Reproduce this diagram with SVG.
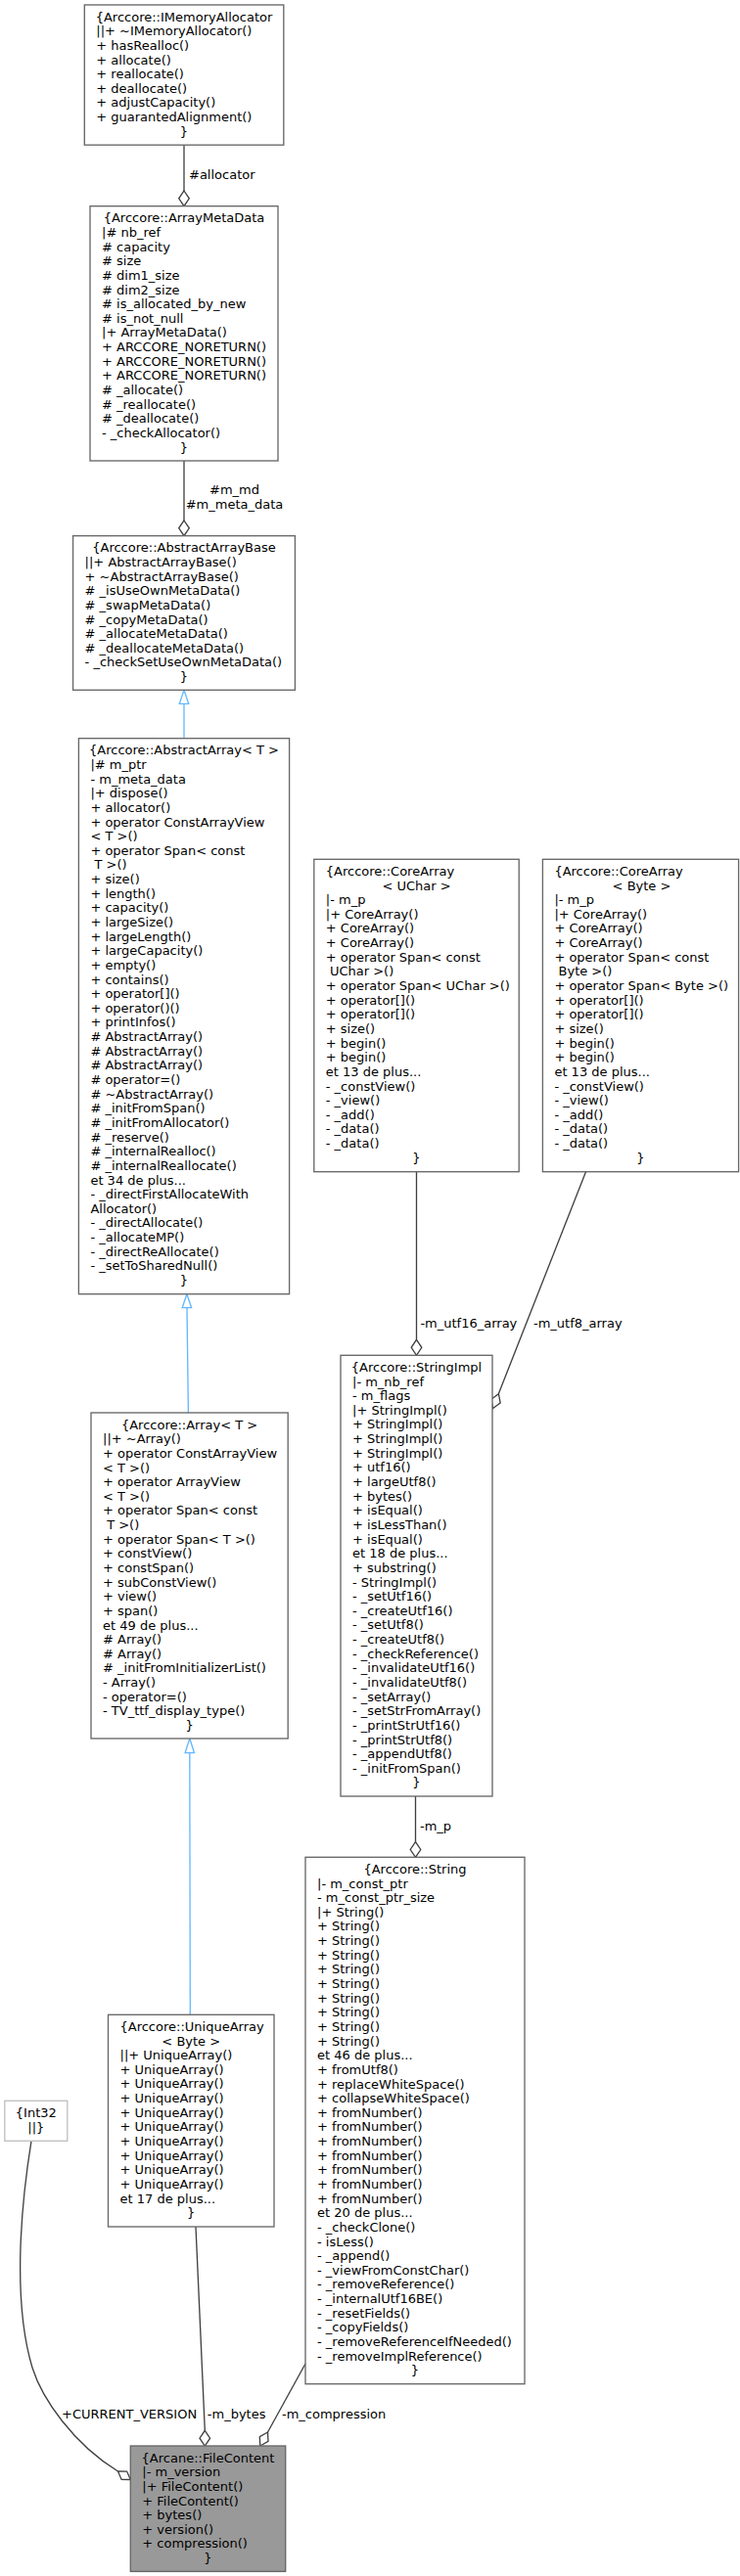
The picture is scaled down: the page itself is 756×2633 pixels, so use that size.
<svg xmlns="http://www.w3.org/2000/svg" width="756" height="2633" viewBox="0 0 756 2633">
<style>
rect.box{fill:#ffffff;stroke:#666666;stroke-width:1.33}
rect.focus{fill:#999999;stroke:#666666;stroke-width:1.33}
rect.ext{fill:#ffffff;stroke:#bfbfbf;stroke-width:1.33}
text{font-family:"DejaVu Sans","Liberation Sans",sans-serif;font-size:13px;fill:#000000}
text.c{text-anchor:middle}
.e{fill:none;stroke:#404040;stroke-width:1.33}
.inh{fill:none;stroke:#63b8ff;stroke-width:1.33}
.dia{fill:#ffffff;stroke:#404040;stroke-width:1.33}
.tri{fill:#ffffff;stroke:#63b8ff;stroke-width:1.33}
</style>
<rect width="756" height="2633" fill="#ffffff"/>
<g id="edges">
<!-- allocator -->
<path class="e" d="M188,148.2 L188,195"/>
<polygon class="dia" points="188,195 193.3,202.85 188,210.7 182.7,202.85"/>
<text x="193" y="183.2">#allocator</text>
<!-- m_md / m_meta_data -->
<path class="e" d="M188,471 L188,532"/>
<polygon class="dia" points="188,532 193.3,539.85 188,547.7 182.7,539.85"/>
<text class="c" x="239.5" y="505">#m_md</text>
<text class="c" x="239.5" y="520">#m_meta_data</text>
<!-- AbstractArray -> AbstractArrayBase -->
<path class="inh" d="M188,754.7 L188,719.3"/>
<polygon class="tri" points="188,705.3 192.7,719.3 183.3,719.3"/>
<!-- Array -> AbstractArray -->
<path class="inh" d="M192.4,1444 L191,1336.7"/>
<polygon class="tri" points="190.9,1322.7 195.6,1336.7 186.2,1336.7"/>
<!-- UniqueArray -> Array -->
<path class="inh" d="M194.3,2059.3 L193.8,1791.7"/>
<polygon class="tri" points="193.8,1777 198.5,1791.7 189.1,1791.7"/>
<!-- m_utf16_array -->
<path class="e" d="M425.5,1197.7 L425.5,1369.3"/>
<polygon class="dia" points="425.5,1369.3 430.8,1377.3 425.5,1385.3 420.2,1377.3"/>
<text x="429.4" y="1357">-m_utf16_array</text>
<!-- m_utf8_array -->
<path class="e" d="M598.5,1197.7 L509.4,1424.6"/>
<polygon class="dia" points="509.4,1424.6 511.15,1433.9 503.55,1439.5 501.85,1430.2"/>
<text x="545" y="1357">-m_utf8_array</text>
<!-- m_p -->
<path class="e" d="M424.5,1836 L424.5,1882.7"/>
<polygon class="dia" points="424.5,1882.7 429.8,1890.5 424.5,1898.3 419.2,1890.5"/>
<text x="429" y="1871">-m_p</text>
<!-- CURRENT_VERSION -->
<path class="e" d="M32,2188.3 C22,2250 12,2350 33,2420 C43,2452 75,2498 120.5,2526"/>
<polygon class="dia" points="120.5,2526 129.65,2526.1 133.3,2534.5 124.15,2534.4"/>
<text x="63" y="2472">+CURRENT_VERSION</text>
<!-- m_bytes -->
<path class="e" d="M200,2276 L209.3,2484.3"/>
<polygon class="dia" points="209.3,2484.3 214.6,2492.15 209.3,2500 204,2492.15"/>
<text x="211.8" y="2472">-m_bytes</text>
<!-- m_compression -->
<path class="e" d="M312,2416 L273.5,2486"/>
<polygon class="dia" points="273.5,2486 274,2495.4 265.8,2500 265.3,2490.6"/>
<text x="288" y="2472">-m_compression</text>
</g>
<g id="node_IMemoryAllocator">
<rect class="box" x="86.3" y="5" width="203.5" height="143.2"/>
<text class="c" x="188" y="21.6">{Arccore::IMemoryAllocator</text>
<text x="98.3" y="36.24"><tspan x="98.3">||+ ~IMemoryAllocator()</tspan><tspan x="98.3" dy="14.64">+ hasRealloc()</tspan><tspan x="98.3" dy="14.64">+ allocate()</tspan><tspan x="98.3" dy="14.64">+ reallocate()</tspan><tspan x="98.3" dy="14.64">+ deallocate()</tspan><tspan x="98.3" dy="14.64">+ adjustCapacity()</tspan><tspan x="98.3" dy="14.64">+ guarantedAlignment()</tspan></text>
<text class="c" x="188" y="138.72">}</text>
</g>
<g id="node_ArrayMetaData">
<rect class="box" x="92" y="210.7" width="192" height="260.3"/>
<text class="c" x="188" y="227.3">{Arccore::ArrayMetaData</text>
<text x="104" y="241.94"><tspan x="104">|# nb_ref</tspan><tspan x="104" dy="14.64"># capacity</tspan><tspan x="104" dy="14.64"># size</tspan><tspan x="104" dy="14.64"># dim1_size</tspan><tspan x="104" dy="14.64"># dim2_size</tspan><tspan x="104" dy="14.64"># is_allocated_by_new</tspan><tspan x="104" dy="14.64"># is_not_null</tspan><tspan x="104" dy="14.64">|+ ArrayMetaData()</tspan><tspan x="104" dy="14.64">+ ARCCORE_NORETURN()</tspan><tspan x="104" dy="14.64">+ ARCCORE_NORETURN()</tspan><tspan x="104" dy="14.64">+ ARCCORE_NORETURN()</tspan><tspan x="104" dy="14.64"># _allocate()</tspan><tspan x="104" dy="14.64"># _reallocate()</tspan><tspan x="104" dy="14.64"># _deallocate()</tspan><tspan x="104" dy="14.64">- _checkAllocator()</tspan></text>
<text class="c" x="188" y="461.54">}</text>
</g>
<g id="node_AbstractArrayBase">
<rect class="box" x="74.6" y="547.7" width="226.8" height="157.6"/>
<text class="c" x="188" y="564.3">{Arccore::AbstractArrayBase</text>
<text x="86.6" y="578.94"><tspan x="86.6">||+ AbstractArrayBase()</tspan><tspan x="86.6" dy="14.64">+ ~AbstractArrayBase()</tspan><tspan x="86.6" dy="14.64"># _isUseOwnMetaData()</tspan><tspan x="86.6" dy="14.64"># _swapMetaData()</tspan><tspan x="86.6" dy="14.64"># _copyMetaData()</tspan><tspan x="86.6" dy="14.64"># _allocateMetaData()</tspan><tspan x="86.6" dy="14.64"># _deallocateMetaData()</tspan><tspan x="86.6" dy="14.64">- _checkSetUseOwnMetaData()</tspan></text>
<text class="c" x="188" y="696.06">}</text>
</g>
<g id="node_AbstractArray">
<rect class="box" x="80.4" y="754.7" width="215.2" height="568"/>
<text class="c" x="188" y="771.3">{Arccore::AbstractArray&lt; T &gt;</text>
<text x="92.4" y="785.94"><tspan x="92.4">|# m_ptr</tspan><tspan x="92.4" dy="14.64">- m_meta_data</tspan><tspan x="92.4" dy="14.64">|+ dispose()</tspan><tspan x="92.4" dy="14.64">+ allocator()</tspan><tspan x="92.4" dy="14.64">+ operator ConstArrayView</tspan><tspan x="92.4" dy="14.64">&lt; T &gt;()</tspan><tspan x="92.4" dy="14.64">+ operator Span&lt; const</tspan><tspan x="92.4" dy="14.64">&#160;T &gt;()</tspan><tspan x="92.4" dy="14.64">+ size()</tspan><tspan x="92.4" dy="14.64">+ length()</tspan><tspan x="92.4" dy="14.64">+ capacity()</tspan><tspan x="92.4" dy="14.64">+ largeSize()</tspan><tspan x="92.4" dy="14.64">+ largeLength()</tspan><tspan x="92.4" dy="14.64">+ largeCapacity()</tspan><tspan x="92.4" dy="14.64">+ empty()</tspan><tspan x="92.4" dy="14.64">+ contains()</tspan><tspan x="92.4" dy="14.64">+ operator[]()</tspan><tspan x="92.4" dy="14.64">+ operator()()</tspan><tspan x="92.4" dy="14.64">+ printInfos()</tspan><tspan x="92.4" dy="14.64"># AbstractArray()</tspan><tspan x="92.4" dy="14.64"># AbstractArray()</tspan><tspan x="92.4" dy="14.64"># AbstractArray()</tspan><tspan x="92.4" dy="14.64"># operator=()</tspan><tspan x="92.4" dy="14.64"># ~AbstractArray()</tspan><tspan x="92.4" dy="14.64"># _initFromSpan()</tspan><tspan x="92.4" dy="14.64"># _initFromAllocator()</tspan><tspan x="92.4" dy="14.64"># _reserve()</tspan><tspan x="92.4" dy="14.64"># _internalRealloc()</tspan><tspan x="92.4" dy="14.64"># _internalReallocate()</tspan><tspan x="92.4" dy="14.64">et 34 de plus...</tspan><tspan x="92.4" dy="14.64">- _directFirstAllocateWith</tspan><tspan x="92.4" dy="14.64">Allocator()</tspan><tspan x="92.4" dy="14.64">- _directAllocate()</tspan><tspan x="92.4" dy="14.64">- _allocateMP()</tspan><tspan x="92.4" dy="14.64">- _directReAllocate()</tspan><tspan x="92.4" dy="14.64">- _setToSharedNull()</tspan></text>
<text class="c" x="188" y="1312.98">}</text>
</g>
<g id="node_Array">
<rect class="box" x="93" y="1444" width="201.2" height="333"/>
<text class="c" x="193.6" y="1460.6">{Arccore::Array&lt; T &gt;</text>
<text x="105" y="1475.24"><tspan x="105">||+ ~Array()</tspan><tspan x="105" dy="14.64">+ operator ConstArrayView</tspan><tspan x="105" dy="14.64">&lt; T &gt;()</tspan><tspan x="105" dy="14.64">+ operator ArrayView</tspan><tspan x="105" dy="14.64">&lt; T &gt;()</tspan><tspan x="105" dy="14.64">+ operator Span&lt; const</tspan><tspan x="105" dy="14.64">&#160;T &gt;()</tspan><tspan x="105" dy="14.64">+ operator Span&lt; T &gt;()</tspan><tspan x="105" dy="14.64">+ constView()</tspan><tspan x="105" dy="14.64">+ constSpan()</tspan><tspan x="105" dy="14.64">+ subConstView()</tspan><tspan x="105" dy="14.64">+ view()</tspan><tspan x="105" dy="14.64">+ span()</tspan><tspan x="105" dy="14.64">et 49 de plus...</tspan><tspan x="105" dy="14.64"># Array()</tspan><tspan x="105" dy="14.64"># Array()</tspan><tspan x="105" dy="14.64"># _initFromInitializerList()</tspan><tspan x="105" dy="14.64">- Array()</tspan><tspan x="105" dy="14.64">- operator=()</tspan><tspan x="105" dy="14.64">- TV_ttf_display_type()</tspan></text>
<text class="c" x="193.6" y="1768.04">}</text>
</g>
<g id="node_UniqueArray">
<rect class="box" x="110.5" y="2059.3" width="169.5" height="216.7"/>
<text x="122.5" y="2075.9">{Arccore::UniqueArray</text>
<text class="c" x="195.25" y="2090.54">&lt; Byte &gt;</text>
<text x="122.5" y="2105.18"><tspan x="122.5">||+ UniqueArray()</tspan><tspan x="122.5" dy="14.64">+ UniqueArray()</tspan><tspan x="122.5" dy="14.64">+ UniqueArray()</tspan><tspan x="122.5" dy="14.64">+ UniqueArray()</tspan><tspan x="122.5" dy="14.64">+ UniqueArray()</tspan><tspan x="122.5" dy="14.64">+ UniqueArray()</tspan><tspan x="122.5" dy="14.64">+ UniqueArray()</tspan><tspan x="122.5" dy="14.64">+ UniqueArray()</tspan><tspan x="122.5" dy="14.64">+ UniqueArray()</tspan><tspan x="122.5" dy="14.64">+ UniqueArray()</tspan><tspan x="122.5" dy="14.64">et 17 de plus...</tspan></text>
<text class="c" x="195.25" y="2266.22">}</text>
</g>
<g id="node_Int32">
<rect class="ext" x="4.8" y="2147.3" width="64" height="41"/>
<text class="c" x="36.8" y="2163.9">{Int32</text>
<text class="c" x="36.8" y="2178.54">||}</text>
</g>
<g id="node_FileContent">
<rect class="focus" x="133.3" y="2500" width="158.4" height="128.4"/>
<text class="c" x="212.5" y="2516.6">{Arcane::FileContent</text>
<text x="145.3" y="2531.24"><tspan x="145.3">|- m_version</tspan><tspan x="145.3" dy="14.64">|+ FileContent()</tspan><tspan x="145.3" dy="14.64">+ FileContent()</tspan><tspan x="145.3" dy="14.64">+ bytes()</tspan><tspan x="145.3" dy="14.64">+ version()</tspan><tspan x="145.3" dy="14.64">+ compression()</tspan></text>
<text class="c" x="212.5" y="2619.08">}</text>
</g>
<g id="node_CoreArrayUChar">
<rect class="box" x="320.8" y="878.3" width="209.4" height="319.4"/>
<text x="332.8" y="894.9">{Arccore::CoreArray</text>
<text class="c" x="425.5" y="909.54">&lt; UChar &gt;</text>
<text x="332.8" y="924.18"><tspan x="332.8">|- m_p</tspan><tspan x="332.8" dy="14.64">|+ CoreArray()</tspan><tspan x="332.8" dy="14.64">+ CoreArray()</tspan><tspan x="332.8" dy="14.64">+ CoreArray()</tspan><tspan x="332.8" dy="14.64">+ operator Span&lt; const</tspan><tspan x="332.8" dy="14.64">&#160;UChar &gt;()</tspan><tspan x="332.8" dy="14.64">+ operator Span&lt; UChar &gt;()</tspan><tspan x="332.8" dy="14.64">+ operator[]()</tspan><tspan x="332.8" dy="14.64">+ operator[]()</tspan><tspan x="332.8" dy="14.64">+ size()</tspan><tspan x="332.8" dy="14.64">+ begin()</tspan><tspan x="332.8" dy="14.64">+ begin()</tspan><tspan x="332.8" dy="14.64">et 13 de plus...</tspan><tspan x="332.8" dy="14.64">- _constView()</tspan><tspan x="332.8" dy="14.64">- _view()</tspan><tspan x="332.8" dy="14.64">- _add()</tspan><tspan x="332.8" dy="14.64">- _data()</tspan><tspan x="332.8" dy="14.64">- _data()</tspan></text>
<text class="c" x="425.5" y="1187.7">}</text>
</g>
<g id="node_CoreArrayByte">
<rect class="box" x="554.4" y="878.3" width="200.2" height="319.4"/>
<text x="566.4" y="894.9">{Arccore::CoreArray</text>
<text class="c" x="655.5" y="909.54">&lt; Byte &gt;</text>
<text x="566.4" y="924.18"><tspan x="566.4">|- m_p</tspan><tspan x="566.4" dy="14.64">|+ CoreArray()</tspan><tspan x="566.4" dy="14.64">+ CoreArray()</tspan><tspan x="566.4" dy="14.64">+ CoreArray()</tspan><tspan x="566.4" dy="14.64">+ operator Span&lt; const</tspan><tspan x="566.4" dy="14.64">&#160;Byte &gt;()</tspan><tspan x="566.4" dy="14.64">+ operator Span&lt; Byte &gt;()</tspan><tspan x="566.4" dy="14.64">+ operator[]()</tspan><tspan x="566.4" dy="14.64">+ operator[]()</tspan><tspan x="566.4" dy="14.64">+ size()</tspan><tspan x="566.4" dy="14.64">+ begin()</tspan><tspan x="566.4" dy="14.64">+ begin()</tspan><tspan x="566.4" dy="14.64">et 13 de plus...</tspan><tspan x="566.4" dy="14.64">- _constView()</tspan><tspan x="566.4" dy="14.64">- _view()</tspan><tspan x="566.4" dy="14.64">- _add()</tspan><tspan x="566.4" dy="14.64">- _data()</tspan><tspan x="566.4" dy="14.64">- _data()</tspan></text>
<text class="c" x="654.5" y="1187.7">}</text>
</g>
<g id="node_StringImpl">
<rect class="box" x="348" y="1385.3" width="155" height="450.7"/>
<text class="c" x="425.5" y="1401.9">{Arccore::StringImpl</text>
<text x="360" y="1416.54"><tspan x="360">|- m_nb_ref</tspan><tspan x="360" dy="14.64">- m_flags</tspan><tspan x="360" dy="14.64">|+ StringImpl()</tspan><tspan x="360" dy="14.64">+ StringImpl()</tspan><tspan x="360" dy="14.64">+ StringImpl()</tspan><tspan x="360" dy="14.64">+ StringImpl()</tspan><tspan x="360" dy="14.64">+ utf16()</tspan><tspan x="360" dy="14.64">+ largeUtf8()</tspan><tspan x="360" dy="14.64">+ bytes()</tspan><tspan x="360" dy="14.64">+ isEqual()</tspan><tspan x="360" dy="14.64">+ isLessThan()</tspan><tspan x="360" dy="14.64">+ isEqual()</tspan><tspan x="360" dy="14.64">et 18 de plus...</tspan><tspan x="360" dy="14.64">+ substring()</tspan><tspan x="360" dy="14.64">- StringImpl()</tspan><tspan x="360" dy="14.64">- _setUtf16()</tspan><tspan x="360" dy="14.64">- _createUtf16()</tspan><tspan x="360" dy="14.64">- _setUtf8()</tspan><tspan x="360" dy="14.64">- _createUtf8()</tspan><tspan x="360" dy="14.64">- _checkReference()</tspan><tspan x="360" dy="14.64">- _invalidateUtf16()</tspan><tspan x="360" dy="14.64">- _invalidateUtf8()</tspan><tspan x="360" dy="14.64">- _setArray()</tspan><tspan x="360" dy="14.64">- _setStrFromArray()</tspan><tspan x="360" dy="14.64">- _printStrUtf16()</tspan><tspan x="360" dy="14.64">- _printStrUtf8()</tspan><tspan x="360" dy="14.64">- _appendUtf8()</tspan><tspan x="360" dy="14.64">- _initFromSpan()</tspan></text>
<text class="c" x="425.5" y="1826.46">}</text>
</g>
<g id="node_String">
<rect class="box" x="312" y="1898.3" width="224" height="538.4"/>
<text class="c" x="424" y="1914.9">{Arccore::String</text>
<text x="324" y="1929.54"><tspan x="324">|- m_const_ptr</tspan><tspan x="324" dy="14.64">- m_const_ptr_size</tspan><tspan x="324" dy="14.64">|+ String()</tspan><tspan x="324" dy="14.64">+ String()</tspan><tspan x="324" dy="14.64">+ String()</tspan><tspan x="324" dy="14.64">+ String()</tspan><tspan x="324" dy="14.64">+ String()</tspan><tspan x="324" dy="14.64">+ String()</tspan><tspan x="324" dy="14.64">+ String()</tspan><tspan x="324" dy="14.64">+ String()</tspan><tspan x="324" dy="14.64">+ String()</tspan><tspan x="324" dy="14.64">+ String()</tspan><tspan x="324" dy="14.64">et 46 de plus...</tspan><tspan x="324" dy="14.64">+ fromUtf8()</tspan><tspan x="324" dy="14.64">+ replaceWhiteSpace()</tspan><tspan x="324" dy="14.64">+ collapseWhiteSpace()</tspan><tspan x="324" dy="14.64">+ fromNumber()</tspan><tspan x="324" dy="14.64">+ fromNumber()</tspan><tspan x="324" dy="14.64">+ fromNumber()</tspan><tspan x="324" dy="14.64">+ fromNumber()</tspan><tspan x="324" dy="14.64">+ fromNumber()</tspan><tspan x="324" dy="14.64">+ fromNumber()</tspan><tspan x="324" dy="14.64">+ fromNumber()</tspan><tspan x="324" dy="14.64">et 20 de plus...</tspan><tspan x="324" dy="14.64">- _checkClone()</tspan><tspan x="324" dy="14.64">- isLess()</tspan><tspan x="324" dy="14.64">- _append()</tspan><tspan x="324" dy="14.64">- _viewFromConstChar()</tspan><tspan x="324" dy="14.64">- _removeReference()</tspan><tspan x="324" dy="14.64">- _internalUtf16BE()</tspan><tspan x="324" dy="14.64">- _resetFields()</tspan><tspan x="324" dy="14.64">- _copyFields()</tspan><tspan x="324" dy="14.64">- _removeReferenceIfNeeded()</tspan><tspan x="324" dy="14.64">- _removeImplReference()</tspan></text>
<text class="c" x="424" y="2427.3">}</text>
</g>
</svg>
